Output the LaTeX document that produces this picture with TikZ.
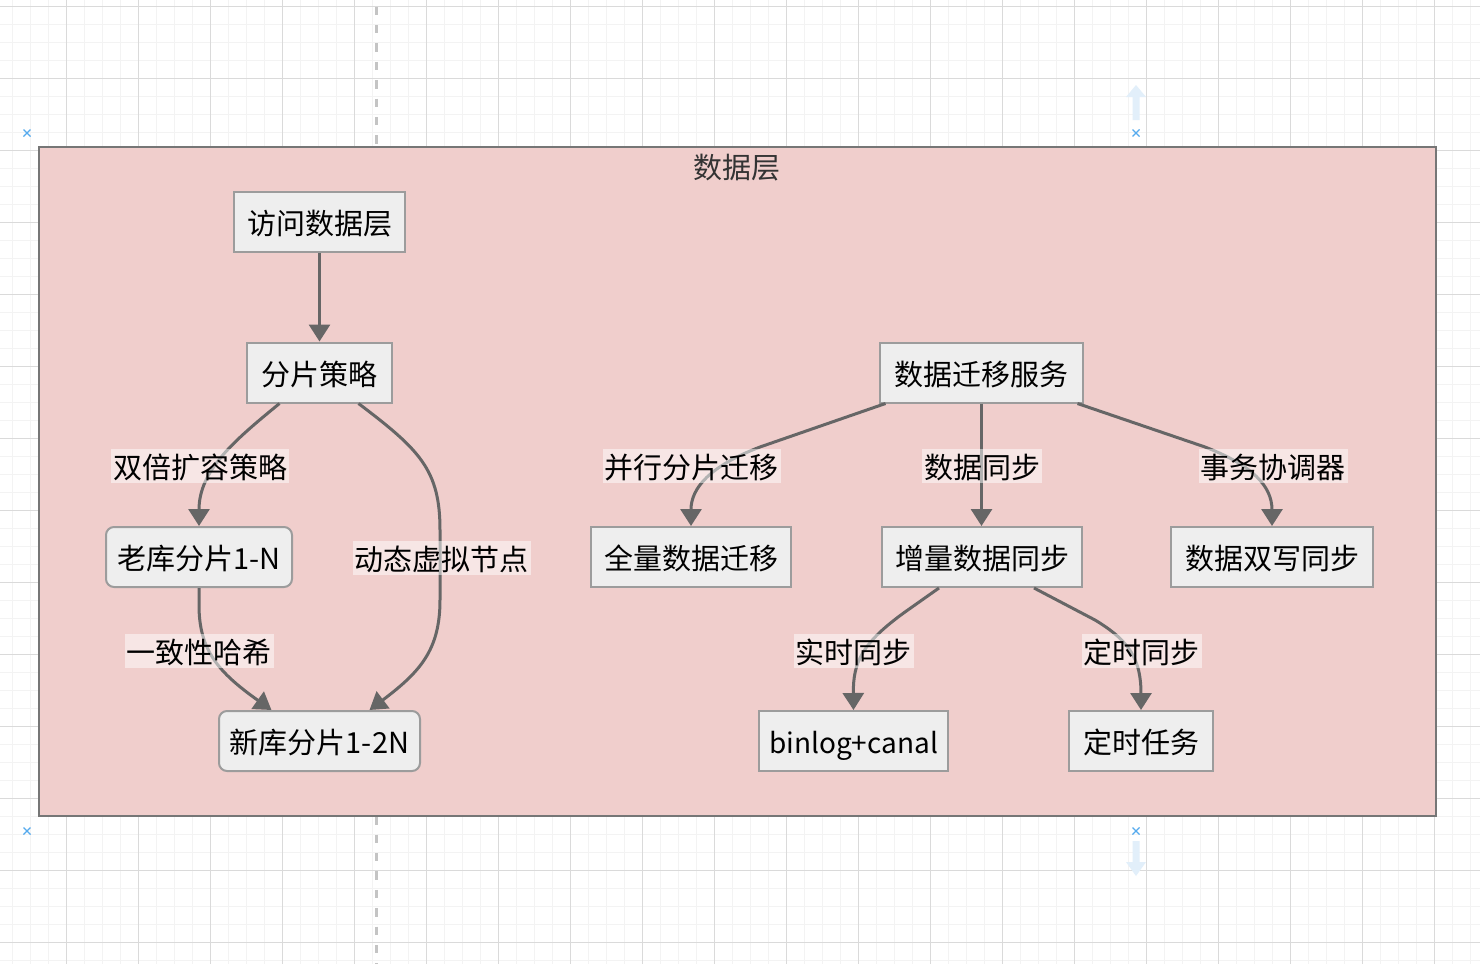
\documentclass[tikz,border=0pt]{standalone}
\usepackage{fontspec}
\setmainfont{Noto Sans CJK SC}
\usetikzlibrary{arrows.meta,calc}
\definecolor{gridminor}{HTML}{F3F3F3}
\definecolor{gridmajor}{HTML}{DADADA}
\definecolor{guide}{HTML}{C4C4C4}
\definecolor{cfill}{HTML}{F0CECC}
\definecolor{cborder}{HTML}{767676}
\definecolor{nfill}{HTML}{EEEEEE}
\definecolor{nborder}{HTML}{9C9C9C}
\definecolor{edgecol}{HTML}{666666}
\definecolor{markblue}{HTML}{55AAEE}
\definecolor{faintblue}{HTML}{E2EFFA}
\definecolor{titlecol}{HTML}{333333}
\tikzset{
  minorline/.style={draw=gridminor, line width=0.5pt},
  majorline/.style={draw=gridmajor, line width=0.5pt},
  box/.style={draw=nborder, line width=1pt, fill=nfill, minimum height=30pt, inner sep=0pt,
    font=\fontsize{14.5pt}{16pt}\selectfont, text=black, text height=13.5pt, text depth=1pt},
  rbox/.style={box, rounded corners=4pt},
  edge/.style={draw=edgecol, line width=1.5pt, -{Triangle[length=8.5pt,width=10.5pt]}},
  lbl/.style={fill=white, fill opacity=0.5, text opacity=1, inner xsep=1pt, inner ysep=1.25pt,
    font=\fontsize{14.5pt}{16pt}\selectfont, text=black, text height=13.5pt, text depth=1pt},
  xmark/.style={draw=markblue, line width=0.6pt},
  faint/.style={fill=faintblue, draw=none}
}
\begin{document}
\begin{tikzpicture}[x=0.5pt,y=-0.5pt]
\useasboundingbox (0,0) rectangle (1480,964);
\fill[white] (0,0) rectangle (1480,964);
% grid
\foreach \i in {0,...,81} { \draw[minorline] ({12.3+18*\i},0) -- ({12.3+18*\i},964); }
\foreach \i in {0,...,53} { \draw[minorline] (0,{6.3+18*\i}) -- (1480,{6.3+18*\i}); }
\foreach \i in {0,...,19} { \draw[majorline] ({66.3+72*\i},0) -- ({66.3+72*\i},964); }
\foreach \i in {0,...,13} { \draw[majorline] (0,{6.3+72*\i}) -- (1480,{6.3+72*\i}); }
% guide line
\draw[guide, line width=1.5pt, dash pattern=on 4.2pt off 5pt, dash phase=-3.3pt] (376,0) -- (376,964);
% marks
\foreach \p in {(27,133),(1136,133),(27,831),(1136,831)} {
  \draw[xmark] \p ++(-3.5,-3.5) -- ++(7,7) \p ++(-3.5,3.5) -- ++(7,-7);
}
\fill[faint] (1132.5,120) -- (1132.5,97) -- (1126,97) -- (1136,85) -- (1146,97) -- (1139.5,97) -- (1139.5,120) -- cycle;
\fill[faint] (1132.5,841) -- (1132.5,862) -- (1126,862) -- (1136,876) -- (1146,862) -- (1139.5,862) -- (1139.5,841) -- cycle;
% container
\node[draw=cborder, line width=1pt, fill=cfill, minimum width=698.5pt, minimum height=334.5pt, inner sep=0pt] (layer) at (737.5,481.5) {};
\node[font=\fontsize{14.5pt}{16pt}\selectfont, text=titlecol, text height=13.5pt, text depth=1pt] (title) at (737,166) {数据层};
% nodes
\node[box, minimum width=85.5pt] (a) at (319.5,222) {访问数据层};
\node[box, minimum width=72.5pt] (b) at (319.5,372.5) {分片策略};
\node[rbox, minimum width=93pt] (c) at (199,557) {老库分片1-N};
\node[rbox, minimum width=100.5pt] (d) at (319.5,741) {新库分片1-2N};
\node[box, minimum width=101.5pt] (e) at (981.5,372.5) {数据迁移服务};
\node[box, minimum width=100pt] (f) at (691,557) {全量数据迁移};
\node[box, minimum width=100pt] (g) at (982,557) {增量数据同步};
\node[box, minimum width=101pt] (h) at (1272,557) {数据双写同步};
\node[box, minimum width=94.5pt, font=\fontsize{14pt}{16pt}\selectfont] (i) at (853.5,741) {binlog+canal};
\node[box, minimum width=72pt] (j) at (1141,741) {定时任务};
% edges
\draw[edge] (a) -- (b);
\draw[edge] ($(b.south)+(-40,0)$) .. controls (235,440) and (199,470) .. (c.north);
\draw[edge] ($(b.south)+(39,0)$) .. controls (420,450) and (440,470) .. (440,530) -- (440,600)
  .. controls (440,650) and (420,672) .. ($(d.north)+(50,0)$);
\draw[edge] (c.south) -- (199,605) .. controls (199,650) and (218,672) .. ($(d.north)+(-48,0)$);
\draw[edge] ($(e.south)+(-96,0)$) -- (760,447) .. controls (710,466) and (691,488) .. (f.north);
\draw[edge] (e.south) -- (e.south |- g.north);
\draw[edge] ($(e.south)+(96,0)$) -- (1205,447) .. controls (1252,465) and (1272,486) .. (h.north);
\draw[edge] ($(g.south)+(-43,0)$) -- (905,612) .. controls (862,643) and (853,662) .. (i.north);
\draw[edge] ($(g.south)+(52,0)$) -- (1095,620) .. controls (1130,641) and (1141,660) .. (j.north);
% edge labels
\node[lbl] (l1) at (200,466) {双倍扩容策略};
\node[lbl] (l2) at (441.5,558) {动态虚拟节点};
\node[lbl] (l3) at (199,651) {一致性哈希};
\node[lbl] (l4) at (691.5,466) {并行分片迁移};
\node[lbl] (l5) at (982,466) {数据同步};
\node[lbl] (l6) at (1273,466) {事务协调器};
\node[lbl] (l7) at (853.5,651) {实时同步};
\node[lbl] (l8) at (1141.5,651) {定时同步};
\end{tikzpicture}
\end{document}
